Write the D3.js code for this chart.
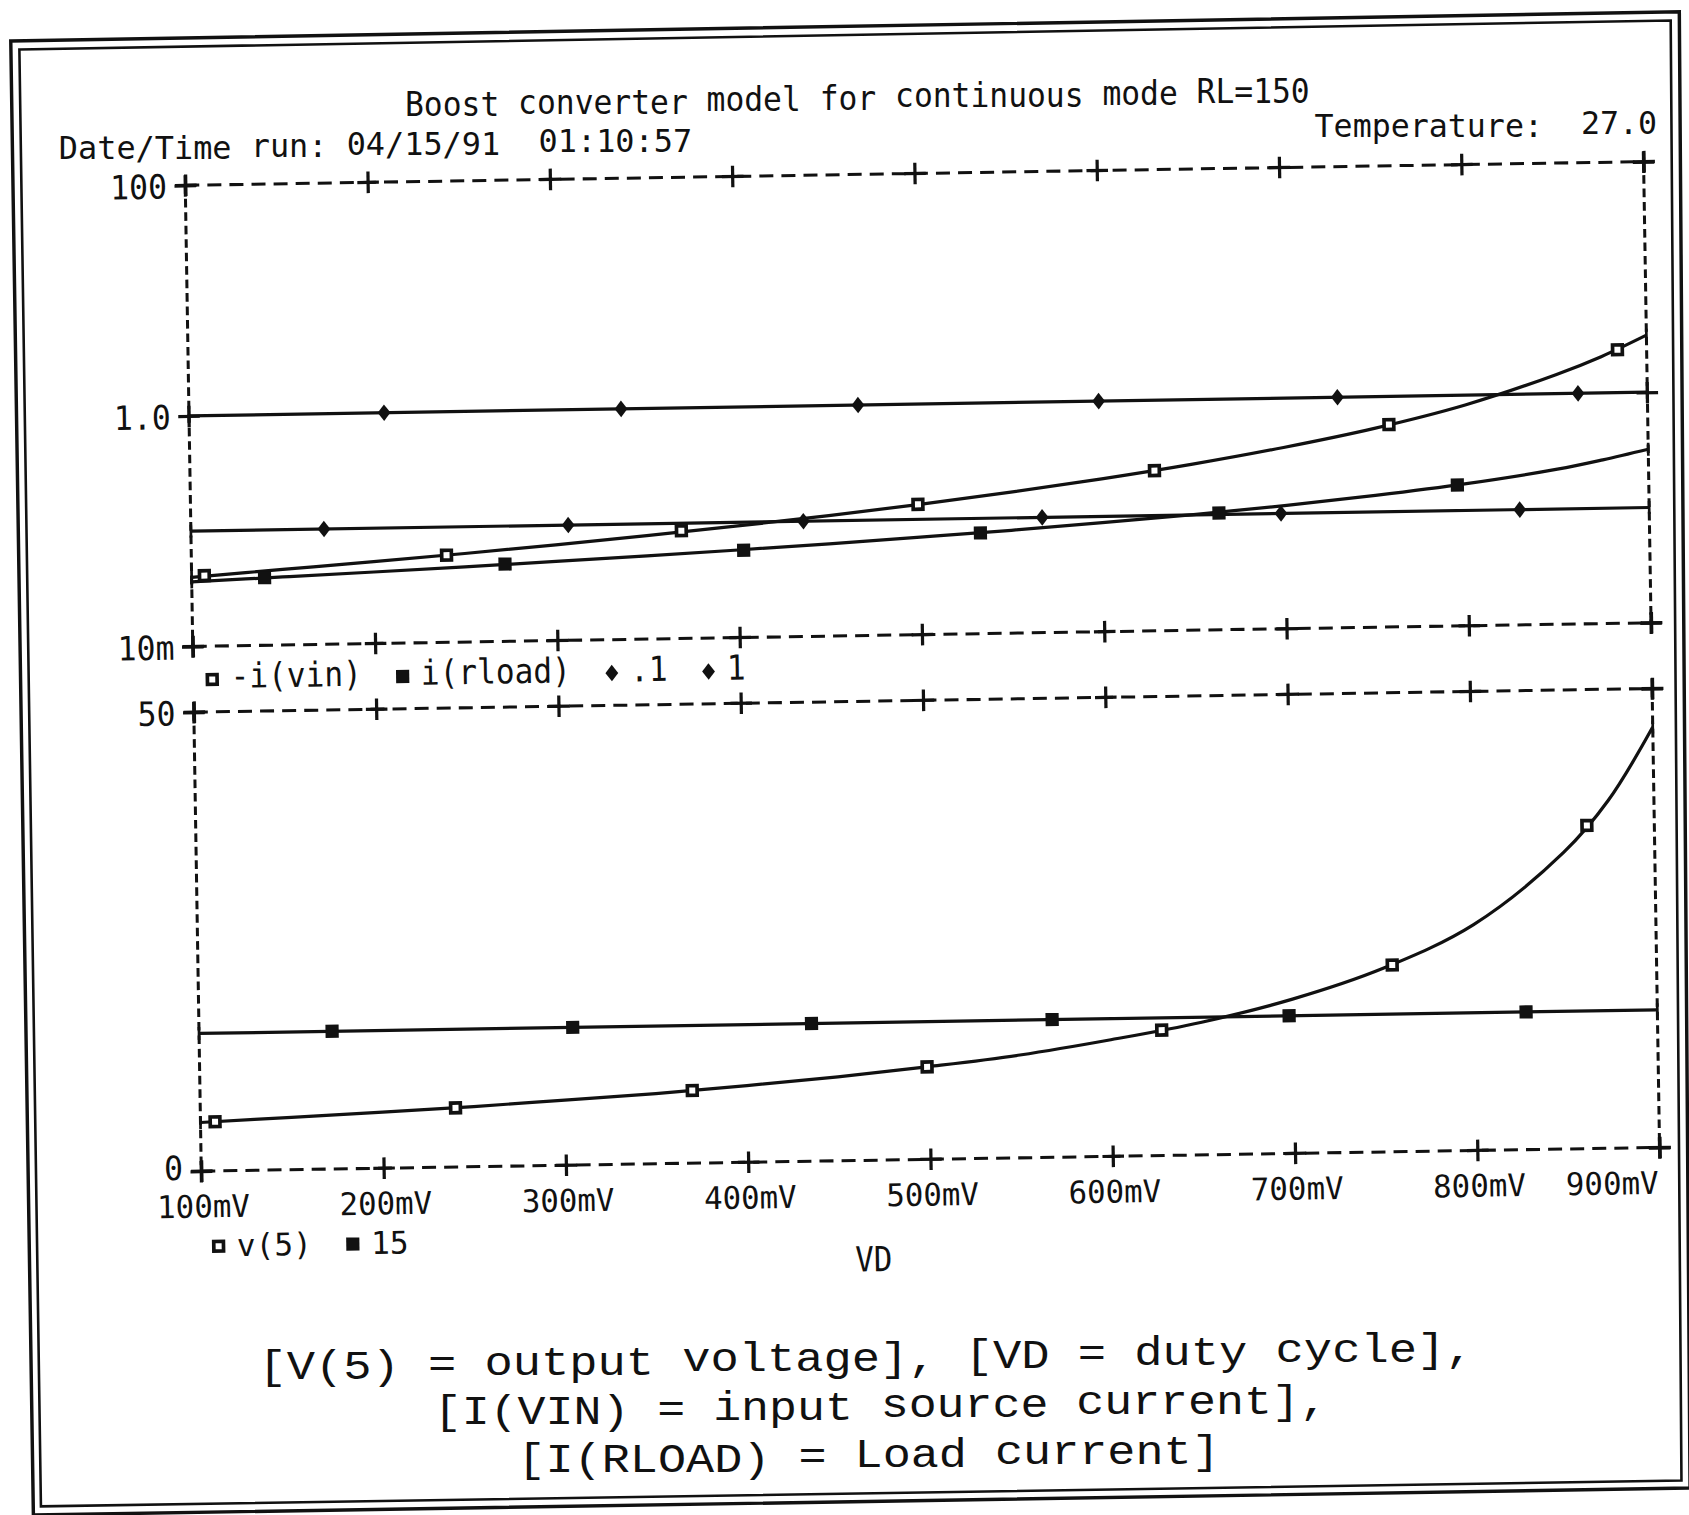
<!DOCTYPE html>
<html><head><meta charset="utf-8">
<script src="https://cdn.jsdelivr.net/npm/d3@7"></script>
<style>
html,body{margin:0;padding:0;background:#fff;}
svg{display:block;}
text{white-space:pre;}
</style></head><body>
<svg id="chart" width="1689" height="1515" viewBox="0 0 1568 1406" preserveAspectRatio="none"></svg>
<script>
// ---------------- data ----------------
const vdTicks = [100, 200, 300, 400, 500, 600, 700, 800, 900];
const vdTickLabels = ["100mV", "200mV", "300mV", "400mV", "500mV", "600mV", "700mV", "800mV", "900mV"];
const currentTicks = [0.01, 1, 100];
const currentTickLabels = ["10m", "1.0", "100"];
const voltTicks = [0, 50];
const voltTickLabels = ["0", "50"];

// sweep points (VD, mV)
const vdGrid = [100, 150, 200, 250, 300, 350, 400, 450, 500, 550, 600, 650, 700, 750, 800, 850, 875, 900];
// -i(vin)  [A]
const iVin = [0.0398, 0.0452, 0.0513, 0.0586, 0.0676, 0.0789, 0.0929, 0.1109, 0.1349, 0.1671, 0.2113, 0.2754, 0.3733, 0.5309, 0.8222, 1.462, 2.065, 3.126];
// i(rload) [A]
const iRload = [0.0363, 0.0389, 0.0417, 0.0449, 0.0485, 0.0527, 0.0575, 0.0632, 0.0700, 0.0780, 0.0881, 0.1005, 0.1169, 0.139, 0.1706, 0.2213, 0.263, 0.320];
// v(5) [V]
const v5 = [5.3, 5.7, 6.1, 6.55, 7.1, 7.65, 8.35, 9.15, 10.1, 11.2, 12.7, 14.45, 16.8, 20.0, 24.6, 32.3, 37.9, 45.8];
// constant reference traces
const constVD = [100, 900];
const ref01 = [0.1, 0.1];
const ref1 = [1, 1];
const ref15 = [15, 15];

// marker positions as plotted
const vinMarkVD = [107, 240, 369, 499, 629, 758, 884];
const vinMarkVal = [0.041, 0.057, 0.086, 0.135, 0.245, 0.57, 2.36];
const rloadMarkVD = [140, 272, 403, 533, 664, 795];
const rloadMarkVal = [0.0386, 0.0468, 0.0572, 0.0748, 0.103, 0.167];
const ref01MarkVD = [173, 307, 436, 567, 698, 829];
const ref01MarkVal = [0.1, 0.1, 0.1, 0.1, 0.1, 0.1];
const ref1MarkVD = [207, 337, 467, 599, 730, 862];
const ref1MarkVal = [1, 1, 1, 1, 1, 1];
const v5MarkVD = [108, 240, 370, 499, 628, 755, 863];
const v5MarkVal = [5.35, 6.44, 7.91, 10.07, 13.66, 20.35, 35.2];
const ref15MarkVD = [173, 305, 436, 568, 698, 828];
const ref15MarkVal = [15, 15, 15, 15, 15, 15];

const topLegend = [["open", "-i(vin)"], ["fill", "i(rload)"], ["diam", ".1"], ["diam", "1"]];
const botLegend = [["open", "v(5)"], ["fill", "15"]];

const titleText = "Boost converter model for continuous mode RL=150";
const dateText = "Date/Time run: 04/15/91  01:10:57";
const tempText = "Temperature:  27.0";
const xAxisTitle = "VD";
const captionLines = ["[V(5) = output voltage], [VD = duty cycle],", "[I(VIN) = input source current],", "[I(RLOAD) = Load current]"];

// ---------------- drawing ----------------
const svg = d3.select("#chart");
const ink = "#111";
const plotFont = "'DejaVu Sans Mono', 'Liberation Mono', monospace";
const capFont = "'Liberation Mono', 'DejaVu Sans Mono', monospace";
const FS = 31;

// scanned double frame (page coordinates)
svg.append("path").attr("fill", "none").attr("stroke", ink).attr("stroke-width", 3.2)
  .attr("d", "M10,38 L1559,11 L1569,1381 L31,1406 Z");
svg.append("path").attr("fill", "none").attr("stroke", ink).attr("stroke-width", 2.4)
  .attr("d", "M18,46 L1551,19 L1561,1374 L38,1398 Z");

// the scanned sheet is tilted slightly
const ANG = -0.93, CX = 172, CY = 172;
const S = Math.sin(-ANG * Math.PI / 180), C = Math.cos(ANG * Math.PI / 180);
function rot(ux, uy) { const dx = ux - CX, dy = uy - CY; return [CX + dx * C + dy * S, CY - dx * S + dy * C]; }

const g = svg.append("g").attr("transform", `rotate(${ANG},${CX},${CY})`);
const gt = svg.append("g"); // word texts placed along the tilted baselines

const X0 = 172, X1 = 1526;
const x = d3.scaleLinear().domain([100, 900]).range([X0, X1]);
const yTop = d3.scaleLog().domain([0.01, 100]).range([600, 172]);
const yBot = d3.scaleLinear().domain([0, 50]).range([1087, 661]);

function ptext(parent, str, px, py, anchor, pitch, size) {
  return parent.append("text").attr("x", px).attr("y", py)
    .attr("text-anchor", anchor || "start")
    .attr("xml:space", "preserve")
    .attr("font-family", plotFont).attr("font-size", size || FS).attr("fill", ink)
    .attr("textLength", str.length * pitch).attr("lengthAdjust", "spacingAndGlyphs")
    .text(str);
}
// a line of monospaced text, each word placed on the tilted baseline
function wordLine(str, x0, base, pitch, size, family) {
  const re = /\S+/g; let m;
  while ((m = re.exec(str))) {
    const n = m[0].length;
    const [px, py] = rot(x0 + (m.index + n / 2) * pitch, base);
    gt.append("text").attr("x", px).attr("y", py).attr("text-anchor", "middle")
      .attr("font-family", family).attr("font-size", size).attr("fill", ink)
      .attr("textLength", n * pitch).attr("lengthAdjust", "spacingAndGlyphs")
      .text(m[0]);
  }
}

// dashed plot boxes
function dashedBox(yScale) {
  const [yb, yt] = yScale.range();
  const box = g.append("g").attr("stroke", ink).attr("stroke-width", 2.8).attr("fill", "none");
  box.append("line").attr("x1", X0).attr("x2", X1).attr("y1", yt).attr("y2", yt).attr("stroke-dasharray", "13 7.5");
  box.append("line").attr("x1", X0).attr("x2", X1).attr("y1", yb).attr("y2", yb).attr("stroke-dasharray", "13 7.5");
  box.append("line").attr("x1", X0).attr("x2", X0).attr("y1", yt).attr("y2", yb).attr("stroke-dasharray", "8 4.5");
  box.append("line").attr("x1", X1).attr("x2", X1).attr("y1", yt).attr("y2", yb).attr("stroke-dasharray", "8 4.5");
}
dashedBox(yTop);
dashedBox(yBot);

// plus-shaped ticks via d3 axes
function plusAxis(axis, tx, ty, horizontal) {
  const a = g.append("g").attr("transform", `translate(${tx},${ty})`).call(axis);
  a.select(".domain").remove();
  a.attr("font-family", plotFont).attr("font-size", FS);
  a.selectAll(".tick line").attr("stroke", ink).attr("stroke-width", 3)
    .attr("x1", horizontal ? 0 : -10).attr("x2", horizontal ? 0 : 10)
    .attr("y1", horizontal ? -10 : 0).attr("y2", horizontal ? 10 : 0);
  a.selectAll(".tick").append("line").attr("stroke", ink).attr("stroke-width", 3)
    .attr("x1", horizontal ? -10 : 0).attr("x2", horizontal ? 10 : 0)
    .attr("y1", horizontal ? 0 : -10).attr("y2", horizontal ? 0 : 10);
  return a;
}
const noLab = () => "";
plusAxis(d3.axisTop(x).tickValues(vdTicks).tickFormat(noLab), 0, yTop.range()[1], true);
plusAxis(d3.axisBottom(x).tickValues(vdTicks).tickFormat(noLab), 0, yTop.range()[0], true);
plusAxis(d3.axisTop(x).tickValues(vdTicks).tickFormat(noLab), 0, yBot.range()[1], true);
const xAx = plusAxis(d3.axisBottom(x).tickValues(vdTicks).tickFormat((d, i) => vdTickLabels[i]), 0, yBot.range()[0], true);
xAx.selectAll(".tick text")
  .attr("y", 43).attr("dy", null).attr("fill", ink).attr("font-size", 29)
  .attr("textLength", d => vdTickLabels[vdTicks.indexOf(d)].length * 17.2)
  .attr("lengthAdjust", "spacingAndGlyphs")
  .attr("text-anchor", (d, i) => i === vdTicks.length - 1 ? "end" : "middle")
  .attr("x", (d, i) => i === vdTicks.length - 1 ? -2 : 1);

const yAxT = plusAxis(d3.axisLeft(yTop).tickValues(currentTicks).tickFormat((d, i) => currentTickLabels[i]), X0, 0, false);
const yAxB = plusAxis(d3.axisLeft(yBot).tickValues(voltTicks).tickFormat((d, i) => voltTickLabels[i]), X0, 0, false);
[yAxT, yAxB].forEach(a => a.selectAll(".tick text")
  .attr("x", -17).attr("dy", "0.37em").attr("fill", ink)
  .attr("textLength", function () { return this.textContent.length * 17.6; })
  .attr("lengthAdjust", "spacingAndGlyphs"));
yAxB.selectAll(".tick text").attr("y", d => d === 0 ? -4 : 0);
plusAxis(d3.axisRight(yTop).tickValues(currentTicks).tickFormat(noLab), X1, 0, false);
plusAxis(d3.axisRight(yBot).tickValues(voltTicks).tickFormat(noLab), X1, 0, false);

// traces
const traces = g.append("g").attr("fill", "none").attr("stroke", ink).attr("stroke-width", 3)
  .attr("stroke-linejoin", "round");
function trace(xs, ys, yScale) {
  const pts = d3.zip(xs, ys);
  const line = d3.line().x(d => x(d[0])).y(d => yScale(d[1])).curve(d3.curveCatmullRom.alpha(0.5));
  traces.append("path").attr("d", line(pts));
  // small end stubs drawn by the plotter
  [pts[0], pts[pts.length - 1]].forEach(p => {
    traces.append("line").attr("x1", x(p[0])).attr("x2", x(p[0]))
      .attr("y1", yScale(p[1]) - 6).attr("y2", yScale(p[1]) + 6).attr("stroke-width", 2.5);
  });
}
trace(constVD, ref1, yTop);
trace(constVD, ref01, yTop);
trace(vdGrid, iVin, yTop);
trace(vdGrid, iRload, yTop);
trace(constVD, ref15, yBot);
trace(vdGrid, v5, yBot);

// markers
const wideDiamond = {
  draw(ctx, size) {
    const r = Math.sqrt(size) / 2;
    ctx.moveTo(0, -r * 1.1); ctx.lineTo(r * 0.85, 0); ctx.lineTo(0, r * 1.1); ctx.lineTo(-r * 0.85, 0); ctx.closePath();
  }
};
const symGen = {
  open: d3.symbol().type(d3.symbolSquare).size(81),
  fill: d3.symbol().type(d3.symbolSquare).size(150),
  diam: d3.symbol().type(wideDiamond).size(196)
};
function mark(parent, kind, px, py) {
  parent.append("path").attr("transform", `translate(${px},${py})`)
    .attr("d", symGen[kind]())
    .attr("fill", kind === "open" ? "#fff" : ink)
    .attr("stroke", kind === "open" ? ink : "none")
    .attr("stroke-width", kind === "open" ? 3.4 : 0);
}
function marks(kind, xs, ys, yScale) {
  d3.zip(xs, ys).forEach(d => mark(g, kind, x(d[0]), yScale(d[1])));
}
marks("open", vinMarkVD, vinMarkVal, yTop);
marks("fill", rloadMarkVD, rloadMarkVal, yTop);
marks("diam", ref01MarkVD, ref01MarkVal, yTop);
marks("diam", ref1MarkVD, ref1MarkVal, yTop);
marks("open", v5MarkVD, v5MarkVal, yBot);
marks("fill", ref15MarkVD, ref15MarkVal, yBot);

// legends
function legend(items, x0, ySym, yText, size) {
  let cx = x0;
  items.forEach(([kind, label]) => {
    mark(g, kind, cx, ySym);
    const tx = cx + 17;
    ptext(g, label, tx, yText, "start", 17.4, size);
    cx = tx + label.length * 17.4 + 38;
  });
}
legend(topLegend, 189.6, 631, 639, 32);
legend(botLegend, 187, 1157, 1166.5, 29);

// x axis title
ptext(g, xAxisTitle, 795, 1190, "middle", 17.2, 32);

// header texts
wordLine(titleText, 377, 111.8, 17.5, 31, plotFont);
wordLine(dateText, 55, 147.2, 588 / 33, 30, plotFont);
wordLine(tempText, 1221, 146, 318 / 18, 30, plotFont);

// caption (typewriter)
const capCenters = [786, 799, 787];
const capWidths = [1128, 830, 652];
captionLines.forEach((s, i) => {
  const pitch = capWidths[i] / s.length;
  wordLine(s, capCenters[i] - capWidths[i] / 2, 1281.5 + i * 45.5, pitch, 38, capFont);
});
</script>
</body></html>
